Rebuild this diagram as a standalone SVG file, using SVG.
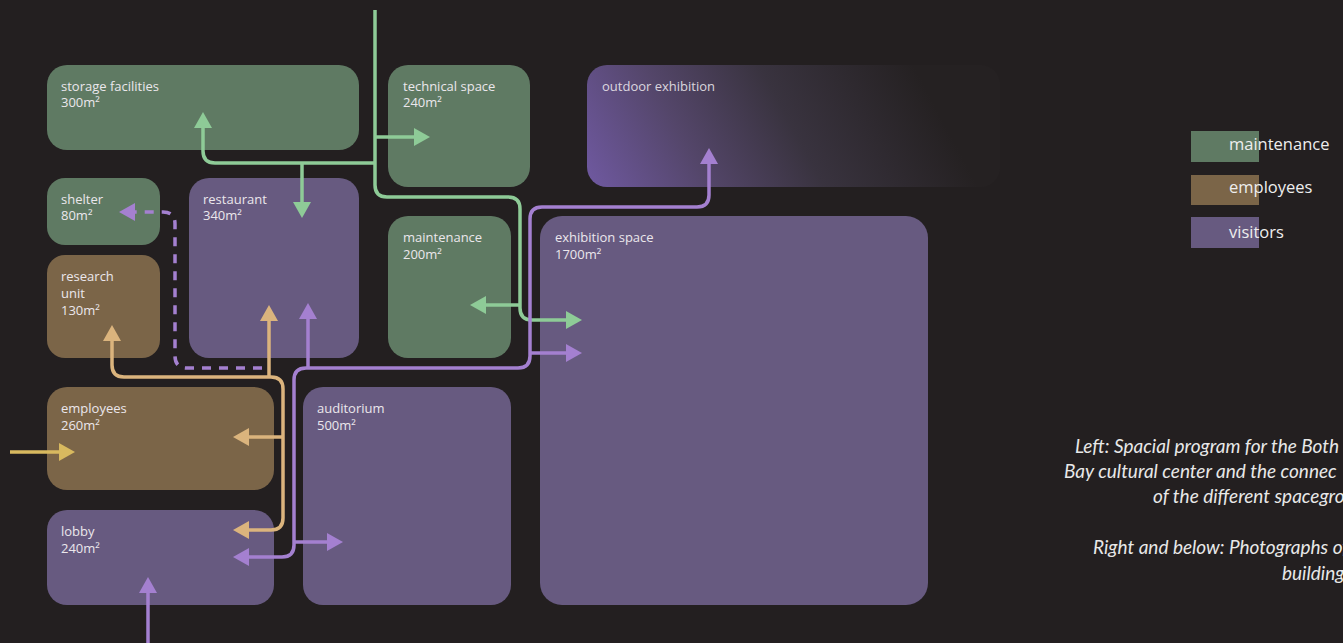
<svg xmlns="http://www.w3.org/2000/svg" width="1343" height="643" viewBox="0 0 1343 643">
<defs>
<style>
.g{fill:#5f7a63}
.b{fill:#7b6548}
.p{fill:#675a80}
.t{font-family:"Open Sans","Noto Sans",sans-serif;font-size:13px;fill:#ebe7ec}
.lg{font-family:"Open Sans","Noto Sans",sans-serif;font-size:16.5px;fill:#eeeeee}
.cap{font-family:Lato,"Liberation Sans",sans-serif;font-style:italic;font-size:19px;fill:#e8e8e8}
.c{fill:none;stroke-width:3.5;stroke-linejoin:round}
.cg{stroke:#8ecb97}
.cp{stroke:#a480d0}
.ct{stroke:#dbb47d}
.cy{stroke:#d8b95f}
</style>
<marker id="ag" viewBox="0 0 16 18" refX="8" refY="9" markerWidth="16" markerHeight="18" markerUnits="userSpaceOnUse" orient="auto-start-reverse"><path d="M0,0 L16,9 L0,18 Z" fill="#8ecb97"/></marker>
<marker id="ap" viewBox="0 0 16 18" refX="8" refY="9" markerWidth="16" markerHeight="18" markerUnits="userSpaceOnUse" orient="auto-start-reverse"><path d="M0,0 L16,9 L0,18 Z" fill="#a480d0"/></marker>
<marker id="at" viewBox="0 0 16 18" refX="8" refY="9" markerWidth="16" markerHeight="18" markerUnits="userSpaceOnUse" orient="auto-start-reverse"><path d="M0,0 L16,9 L0,18 Z" fill="#dbb47d"/></marker>
<marker id="ay" viewBox="0 0 16 18" refX="8" refY="9" markerWidth="16" markerHeight="18" markerUnits="userSpaceOnUse" orient="auto-start-reverse"><path d="M0,0 L16,9 L0,18 Z" fill="#d8b95f"/></marker>
<linearGradient id="og" gradientUnits="userSpaceOnUse" x1="600" y1="200" x2="900" y2="40">
<stop offset="0" stop-color="#6e589e"/>
<stop offset="0.3" stop-color="#54466a"/>
<stop offset="0.6" stop-color="#39333f"/>
<stop offset="1" stop-color="#252122"/>
</linearGradient>
</defs>
<rect width="1343" height="643" fill="#231f20"/>

<g id="storage"><rect class="g" x="47" y="65" width="312" height="85" rx="20"/><text class="t" x="61" y="91">storage facilities</text><text class="t" x="61" y="107">300m²</text></g>
<g id="technical"><rect class="g" x="388" y="65" width="142" height="122" rx="20"/><text class="t" x="403" y="91">technical space</text><text class="t" x="403" y="107">240m²</text></g>
<g id="outdoor"><rect x="587" y="65" width="413" height="122" rx="20" fill="url(#og)"/><text class="t" x="602" y="91" fill-opacity="0.9">outdoor exhibition</text></g>
<g id="shelter"><rect class="g" x="47" y="178" width="113" height="67" rx="18"/><text class="t" x="61" y="204">shelter</text><text class="t" x="61" y="220">80m²</text></g>
<g id="restaurant"><rect class="p" x="189" y="178" width="170" height="180" rx="20"/><text class="t" x="203" y="204">restaurant</text><text class="t" x="203" y="220">340m²</text></g>
<g id="research"><rect class="b" x="47" y="255" width="113" height="103" rx="18"/><text class="t" x="61" y="281">research</text><text class="t" x="61" y="298">unit</text><text class="t" x="61" y="315">130m²</text></g>
<g id="maintenance"><rect class="g" x="388" y="216" width="123" height="142" rx="20"/><text class="t" x="403" y="242">maintenance</text><text class="t" x="403" y="259">200m²</text></g>
<g id="exhibition"><rect class="p" x="540" y="216" width="388" height="389" rx="22"/><text class="t" x="555" y="242">exhibition space</text><text class="t" x="555" y="259">1700m²</text></g>
<g id="employees"><rect class="b" x="47" y="387" width="227" height="103" rx="20"/><text class="t" x="61" y="413">employees</text><text class="t" x="61" y="430">260m²</text></g>
<g id="auditorium"><rect class="p" x="303" y="387" width="208" height="218" rx="20"/><text class="t" x="317" y="413">auditorium</text><text class="t" x="317" y="430">500m²</text></g>
<g id="lobby"><rect class="p" x="47" y="510" width="227" height="95" rx="20"/><text class="t" x="61" y="536">lobby</text><text class="t" x="61" y="553">240m²</text></g>

<g id="connectors">
<path class="c cg" d="M375,10 V185 Q375,197 387,197 H508 Q520,197 520,209 V308 Q520,320 532,320 H574" marker-end="url(#ag)"/>
<path class="c cg" d="M375,137 H422" marker-end="url(#ag)"/>
<path class="c cg" d="M375,163 H215 Q203,163 203,151 V120" marker-end="url(#ag)"/>
<path class="c cg" d="M302,163 V210" marker-end="url(#ag)"/>
<path class="c cg" d="M520,305 H478" marker-end="url(#ag)"/>

<path class="c cp" d="M709,156 V195 Q709,207 697,207 H542 Q530,207 530,219 V356 Q530,368 518,368 H306 Q294,368 294,380 V545 Q294,557 282,557 H241" marker-start="url(#ap)" marker-end="url(#ap)"/>
<path class="c cp" d="M530,353 H574" marker-end="url(#ap)"/>
<path class="c cp" d="M308,368 V311" marker-end="url(#ap)"/>
<path class="c cp" d="M294,542 H335" marker-end="url(#ap)"/>
<path class="c cp" d="M148,643 V585" marker-end="url(#ap)"/>
<path class="c cp" d="M262,368 H187 Q175,368 175,356 V224 Q175,212 163,212 H127" stroke-width="4" stroke-dasharray="9 8" marker-end="url(#ap)"/>

<path class="c ct" d="M112,333 V365 Q112,377 124,377 H271 Q283,377 283,389 V518 Q283,530 271,530 H241" marker-start="url(#at)" marker-end="url(#at)"/>
<path class="c ct" d="M269,377 V313" marker-end="url(#at)"/>
<path class="c ct" d="M283,437 H241" marker-end="url(#at)"/>
<path class="c cy" d="M10,452 H67" marker-end="url(#ay)"/>
</g>

<g id="legend">
<rect class="g" x="1191" y="131" width="68" height="31"/>
<rect class="b" x="1191" y="175" width="68" height="30"/>
<rect class="p" x="1191" y="217" width="68" height="31"/>
<text class="lg" x="1229" y="150">maintenance</text>
<text class="lg" x="1229" y="193">employees</text>
<text class="lg" x="1229" y="238">visitors</text>
</g>

<g id="caption">
<text class="cap" x="1075" y="453">Left: Spacial program for the Both</text>
<text class="cap" x="1064" y="478">Bay cultural center and the connec</text>
<text class="cap" x="1153" y="503">of the different spacegro</text>
<text class="cap" x="1093" y="554">Right and below: Photographs of</text>
<text class="cap" x="1282" y="580">building</text>
</g>
</svg>
